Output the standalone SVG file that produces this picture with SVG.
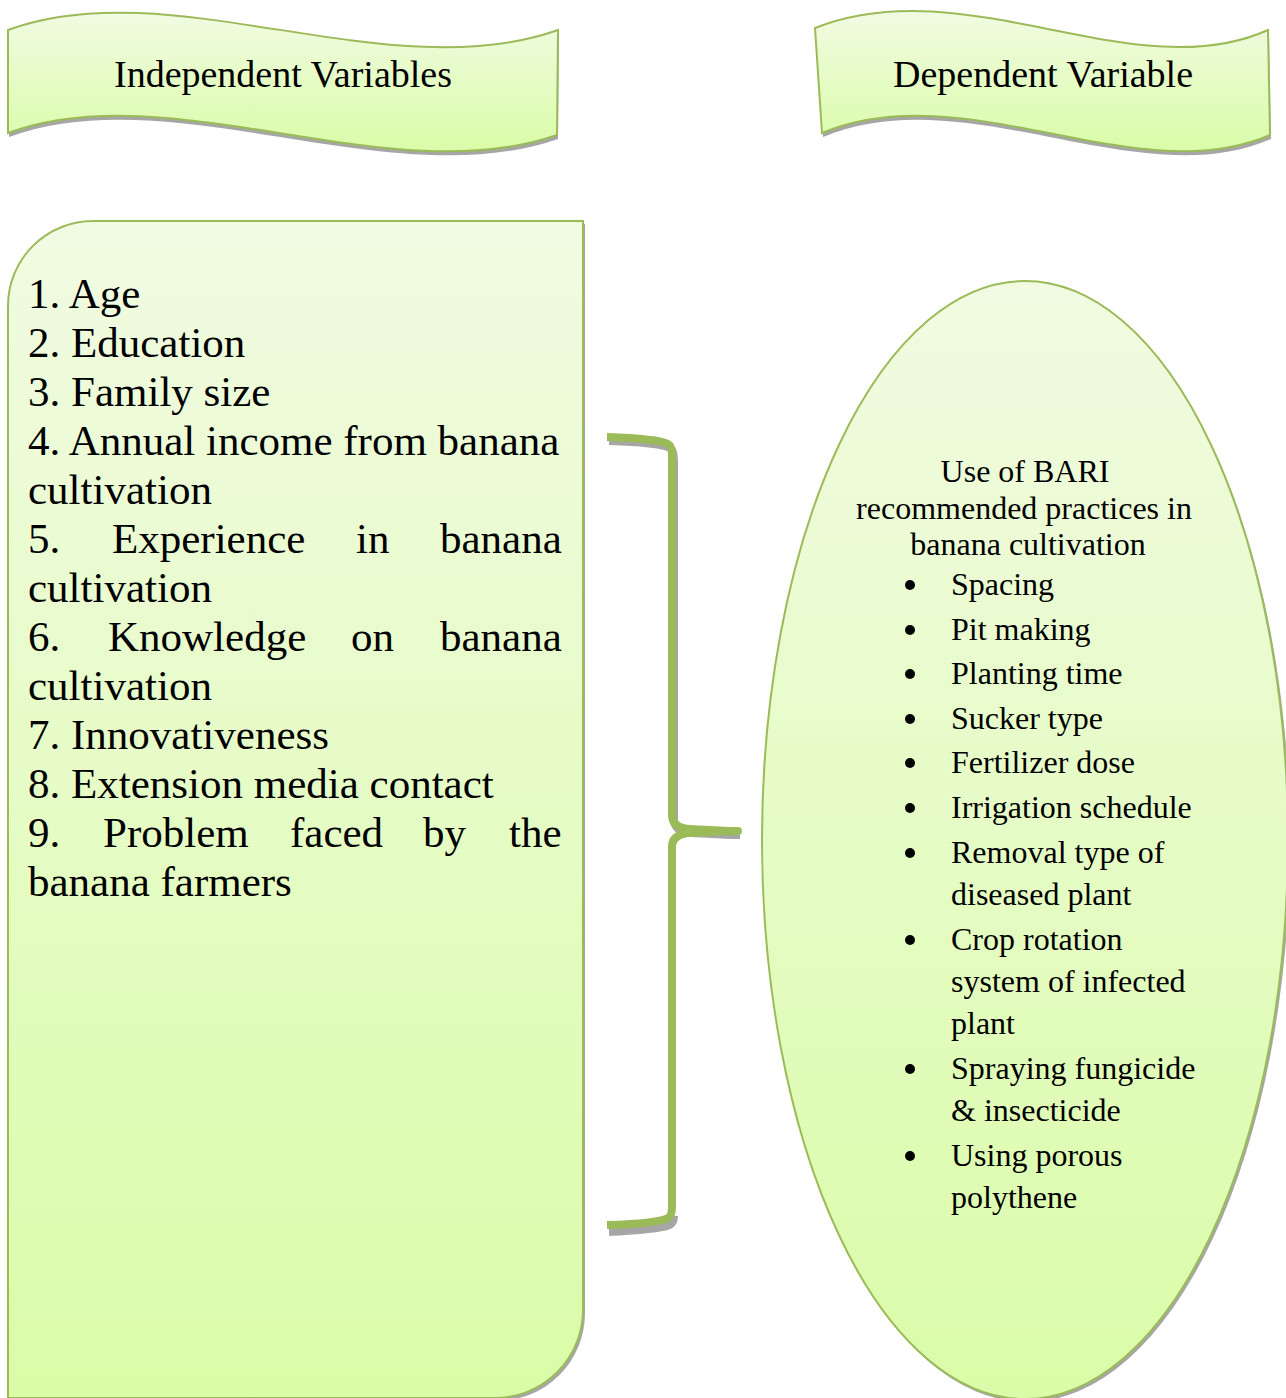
<svg xmlns="http://www.w3.org/2000/svg" width="1286" height="1398" viewBox="0 0 1286 1398">
<defs>
<linearGradient id="g" x1="0" y1="0" x2="0" y2="1">
<stop offset="0" stop-color="#F1FBE2"/>
<stop offset="1" stop-color="#DAFCA8"/>
</linearGradient>
<style>
.shape{fill:url(#g);stroke:#9BBB59;stroke-width:2}
.shadow{fill:#A6A6A6;stroke:none}
.t{font-family:"Liberation Serif","Times New Roman",serif;fill:#000}
.big{font-size:43px}
.hd{font-size:38px}
.sm{font-size:32px}
.br{fill:none;stroke:#9BBB59;stroke-width:8;stroke-linecap:butt;stroke-linejoin:round}
.brs{fill:none;stroke:#A6A6A6;stroke-width:8}
</style>
</defs>
<rect width="1286" height="1398" fill="#FFFFFF"/>

<g id="header-independent">
<path class="shadow" transform="translate(1,4)" d="M8,30 C170,-30 390,90 558,30 L557,135 C390,193 170,73 8,133 Z"/>
<path class="shape" d="M8,30 C170,-30 390,90 558,30 L557,135 C390,193 170,73 8,133 Z"/>
<text class="t hd" x="283" y="87" text-anchor="middle">Independent Variables</text>
</g>

<g id="header-dependent">
<path class="shadow" transform="translate(1,4)" d="M815,28 C965,-32 1135,90 1268,30 L1270,135 C1137,193 965,73 822,133 Z"/>
<path class="shape" d="M815,28 C965,-32 1135,90 1268,30 L1270,135 C1137,193 965,73 822,133 Z"/>
<text class="t hd" x="1043" y="87" text-anchor="middle">Dependent Variable</text>
</g>

<g id="independent-variables">
<path class="shadow" transform="translate(2,3)" d="M8,306 A85,85 0 0 1 93,221 L583,221 L583,1310 A88,88 0 0 1 495,1398 L8,1398 Z"/>
<path class="shape" d="M8,306 A85,85 0 0 1 93,221 L583,221 L583,1310 A88,88 0 0 1 495,1398 L8,1398 Z"/>
<text class="t big">
<tspan x="28" y="308">1. Age</tspan>
<tspan x="28" y="357">2. Education</tspan>
<tspan x="28" y="406">3. Family size</tspan>
<tspan x="28" y="455">4. Annual income from banana</tspan>
<tspan x="28" y="504">cultivation</tspan>
<tspan x="28" y="553">5.</tspan><tspan x="112" y="553">Experience</tspan><tspan x="356" y="553">in</tspan><tspan x="440" y="553">banana</tspan>
<tspan x="28" y="602">cultivation</tspan>
<tspan x="28" y="651">6.</tspan><tspan x="108" y="651">Knowledge</tspan><tspan x="351" y="651">on</tspan><tspan x="440" y="651">banana</tspan>
<tspan x="28" y="700">cultivation</tspan>
<tspan x="28" y="749">7. Innovativeness</tspan>
<tspan x="28" y="798">8. Extension media contact</tspan>
<tspan x="28" y="847">9.</tspan><tspan x="103" y="847">Problem</tspan><tspan x="290" y="847">faced</tspan><tspan x="423" y="847">by</tspan><tspan x="509" y="847">the</tspan>
<tspan x="28" y="896">banana farmers</tspan>
</text>
</g>

<g id="connectors">
<path class="brs" transform="translate(2,4)" d="M607,437 C640,438 660,440 668,444 Q672,446 672,456 L672,815 Q672,828 690,829 C710,830 722,831 738,831 M672,1212 Q672,1222 660,1223 C645,1226 625,1227 607,1228"/>
<path class="br" d="M607,437 C640,438 660,440 668,444 Q672,446 672,456 L672,815 Q672,828 690,829 C710,830 722,831 738,831 C722,831 710,832 690,833 Q672,834 672,847 L672,1206 Q672,1216 668,1218 C660,1222 640,1224 607,1225"/>
</g>

<g id="dependent-variable">
<ellipse class="shadow" cx="1027" cy="843" rx="263" ry="559"/>
<ellipse class="shape" cx="1025" cy="840" rx="263" ry="559"/>
<text class="t sm" text-anchor="middle">
<tspan x="1029" y="482">Use of BARI</tspan>
<tspan x="1028" y="519">recommended practices in</tspan>
<tspan x="1028" y="555">banana cultivation</tspan>
</text>
<g fill="#000">
<circle cx="910" cy="585" r="5"/>
<circle cx="910" cy="630" r="5"/>
<circle cx="910" cy="674" r="5"/>
<circle cx="910" cy="719" r="5"/>
<circle cx="910" cy="763" r="5"/>
<circle cx="910" cy="808" r="5"/>
<circle cx="910" cy="853" r="5"/>
<circle cx="910" cy="940" r="5"/>
<circle cx="910" cy="1069" r="5"/>
<circle cx="910" cy="1156" r="5"/>
</g>
<text class="t sm">
<tspan x="951" y="595">Spacing</tspan>
<tspan x="951" y="640">Pit making</tspan>
<tspan x="951" y="684">Planting time</tspan>
<tspan x="951" y="729">Sucker type</tspan>
<tspan x="951" y="773">Fertilizer dose</tspan>
<tspan x="951" y="818">Irrigation schedule</tspan>
<tspan x="951" y="863">Removal type of</tspan>
<tspan x="951" y="905">diseased plant</tspan>
<tspan x="951" y="950">Crop rotation</tspan>
<tspan x="951" y="992">system of infected</tspan>
<tspan x="951" y="1034">plant</tspan>
<tspan x="951" y="1079">Spraying fungicide</tspan>
<tspan x="951" y="1121">&amp; insecticide</tspan>
<tspan x="951" y="1166">Using porous</tspan>
<tspan x="951" y="1208">polythene</tspan>
</text>
</g>
</svg>
